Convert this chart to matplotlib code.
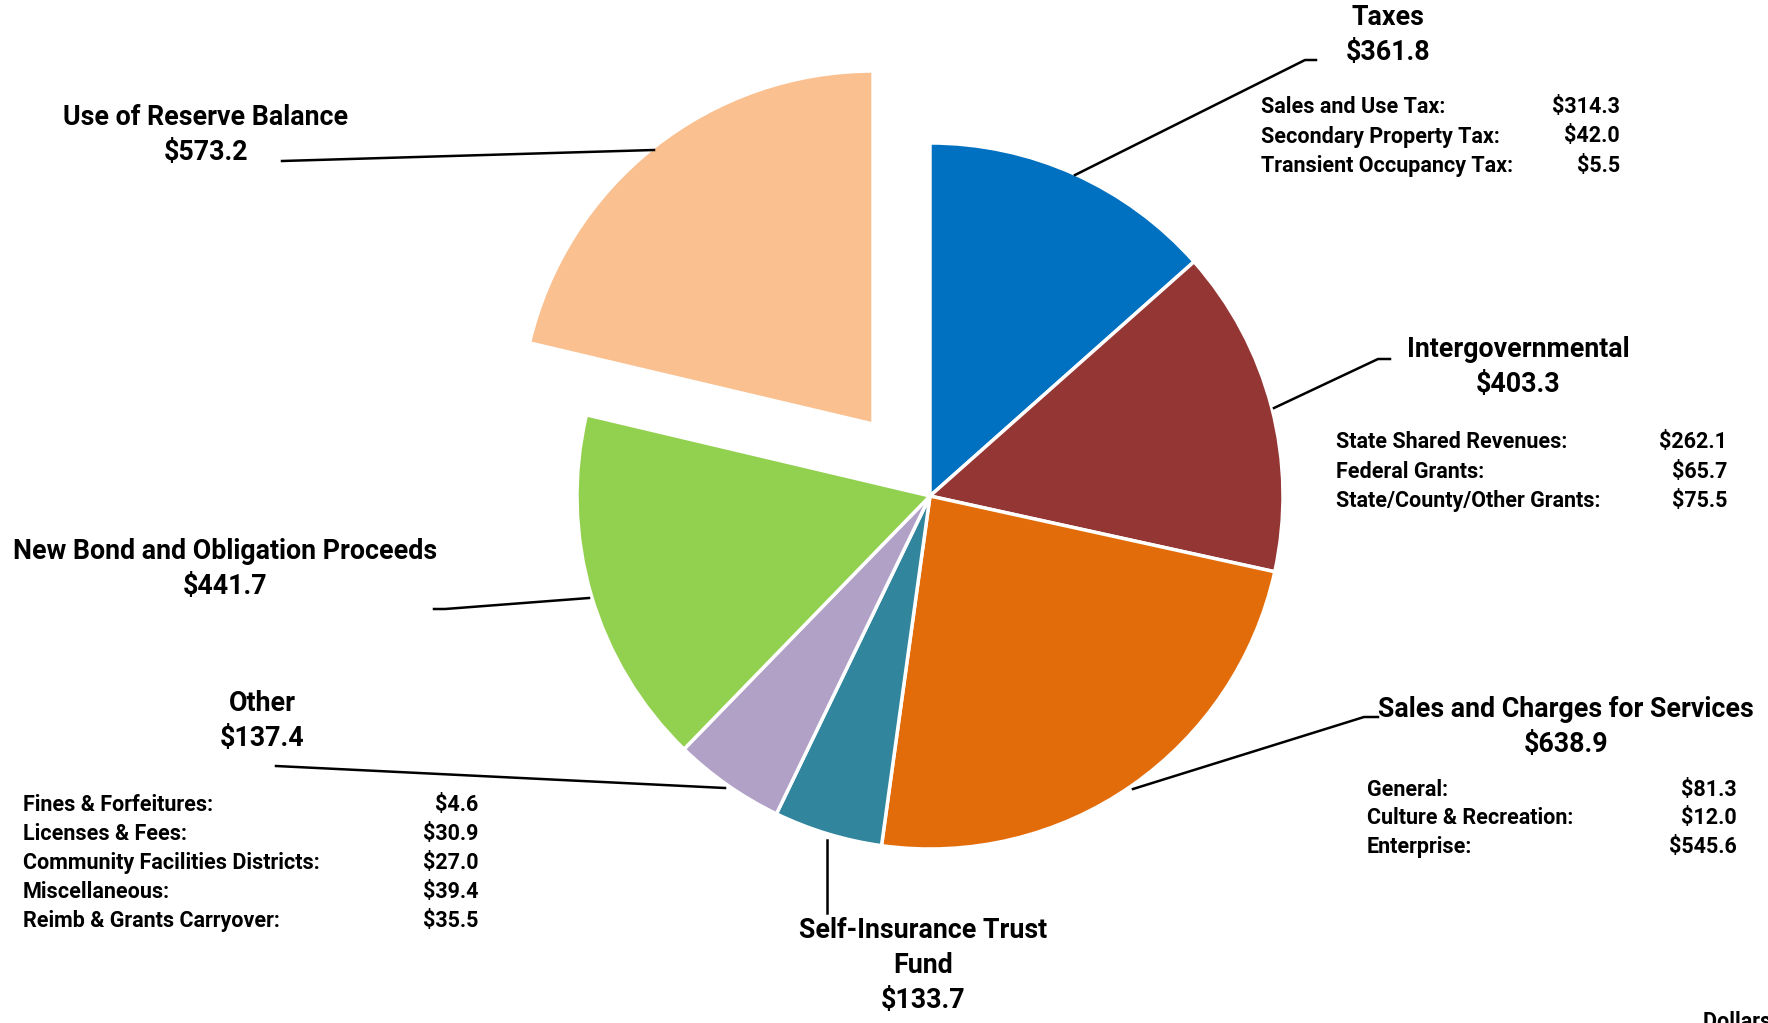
import matplotlib.pyplot as plt

plt.rcParams['font.family'] = ['Roboto', 'DejaVu Sans']
plt.rcParams['font.weight'] = 'bold'

# data (dollars in millions)
categories = ['Taxes', 'Intergovernmental', 'Sales and Charges for Services',
              'Self-Insurance Trust\nFund', 'Other', 'New Bond and Obligation Proceeds',
              'Use of Reserve Balance']
values = [361.8, 403.3, 638.9, 133.7, 137.4, 441.7, 573.2]
colors = ['#0070C0', '#943634', '#E36C0A', '#31859C', '#B2A1C7', '#92D050', '#FAC090']

tax_items = ['Sales and Use Tax:', 'Secondary Property Tax:', 'Transient Occupancy Tax:']
tax_vals = [314.3, 42.0, 5.5]
intergov_items = ['State Shared Revenues:', 'Federal Grants:', 'State/County/Other Grants:']
intergov_vals = [262.1, 65.7, 75.5]
charges_items = ['General:', 'Culture & Recreation:', 'Enterprise:']
charges_vals = [81.3, 12.0, 545.6]
other_items = ['Fines & Forfeitures:', 'Licenses & Fees:', 'Community Facilities Districts:',
               'Miscellaneous:', 'Reimb & Grants Carryover:']
other_vals = [4.6, 30.9, 27.0, 39.4, 35.5]

W, H = 1768, 1023
fig = plt.figure(figsize=(W / 100, H / 100), dpi=100)
ax = fig.add_axes([0, 0, 1, 1])


def Y(y):
    # convert from top-down pixel coordinates
    return H - y


R = 353
explode = [0, 0, 0, 0, 0, 0, 0.26 * R]
ax.pie(values, colors=colors, startangle=90, counterclock=False,
       center=(930, Y(496)), radius=R, explode=explode,
       wedgeprops=dict(edgecolor='white', linewidth=2.5), frame=True)
ax.set_xlim(0, W)
ax.set_ylim(0, H)
ax.set_aspect('equal')
ax.axis('off')

big = 19.3
small = 15.5


def title(x, y, name, val):
    ax.text(x, Y(y), f'{name}\n${val:.1f}', ha='center', va='top',
            fontsize=big, linespacing=1.38)


def leader(pts):
    ax.plot([p[0] for p in pts], [Y(p[1]) for p in pts], color='black', lw=1.8)


def items(xl, xr, y0, dy, labels, vals):
    for i, (lab, v) in enumerate(zip(labels, vals)):
        ax.text(xl, Y(y0 + i * dy), lab, ha='left', va='center', fontsize=small)
        ax.text(xr, Y(y0 + i * dy), f'${v:.1f}', ha='right', va='center', fontsize=small)


# Taxes
title(1388, 4, categories[0], values[0])
leader([(1075, 175), (1305, 60), (1316, 60)])
items(1261, 1620, 107, 29.5, tax_items, tax_vals)

# Intergovernmental
title(1518, 336, categories[1], values[1])
leader([(1274, 408), (1378, 359), (1390, 359)])
items(1336, 1727, 442, 29.5, intergov_items, intergov_vals)

# Sales and Charges
title(1566, 696, categories[2], values[2])
leader([(1133, 789), (1364, 717), (1378, 717)])
items(1367, 1737, 790, 28.5, charges_items, charges_vals)

# Self-Insurance
ax.text(923, Y(917), f'{categories[3]}\n${values[3]:.1f}', ha='center', va='top',
        fontsize=big, linespacing=1.38)
leader([(827, 840), (827, 913)])

# Other
title(262, 690, categories[4], values[4])
leader([(725, 788), (276, 766)])
items(23, 478, 805, 29, other_items, other_vals)

# New Bond
title(225, 538, categories[5], values[5])
leader([(589, 598), (445, 609), (434, 609)])

# Use of Reserve
title(206, 104, categories[6], values[6])
leader([(654, 150), (282, 161)])

ax.text(1703, Y(1011), 'Dollars in Millions', ha='left', va='top', fontsize=small)

fig.savefig('out.png', dpi=100)
